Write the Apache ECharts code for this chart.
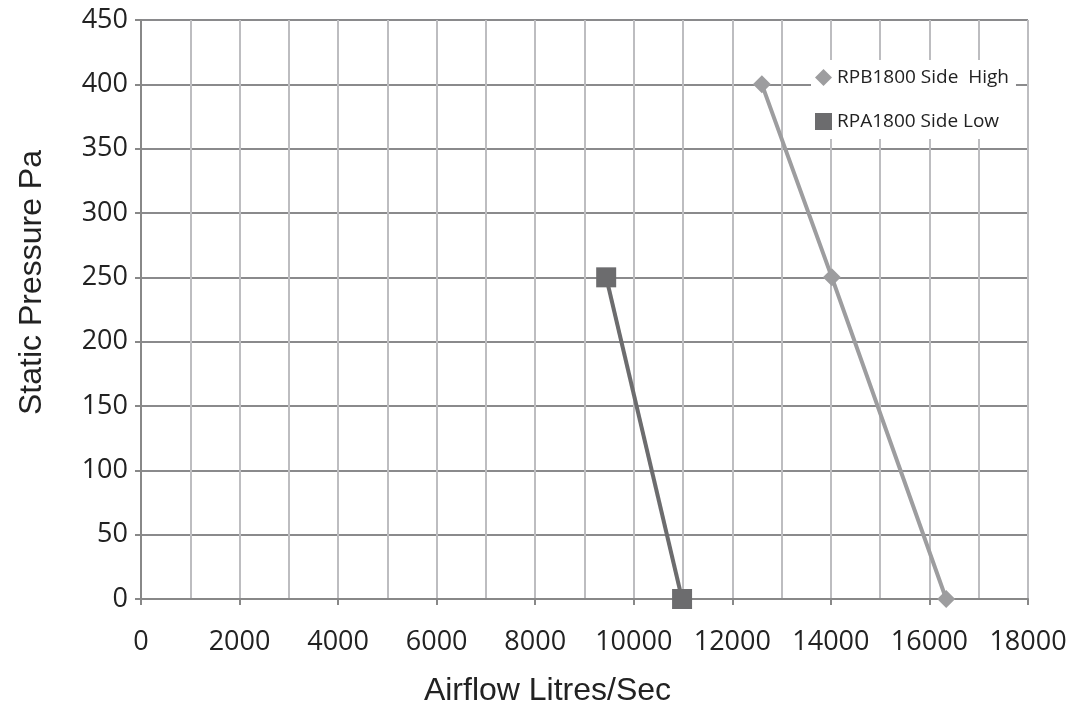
<!DOCTYPE html>
<html><head><meta charset="utf-8">
<script src="https://cdn.jsdelivr.net/npm/echarts@6/dist/echarts.min.js"></script>
<style>html,body{margin:0;padding:0;background:#fff}#c{width:1083px;height:704px}</style>
</head><body><div id="c"></div>
<script>
var seriesNames = ['RPB1800 Side  High', 'RPA1800 Side Low'];
var highAirflow = [12600, 14020, 16340];
var highPressure = [400, 250, 0];
var lowAirflow = [9440, 10980];
var lowPressure = [250, 0];
var xTitle = 'Airflow Litres/Sec';
var yTitle = 'Static Pressure Pa';

function pairs(xs, ys){ return xs.map(function(x,i){ return [x, ys[i]]; }); }

var chart = echarts.init(document.getElementById('c'));
chart.setOption({
  animation:false,
  grid:{left:141, right:55, top:20, bottom:105, containLabel:false, outerBoundsMode:'none'},
  legend:{
    orient:'vertical', left:811, top:60, itemGap:25,
    backgroundColor:'#fff', padding:[8,7,8,4],
    itemWidth:17, itemHeight:17,
    textStyle:{fontFamily:'"Open Sans", "Noto Sans", sans-serif', fontSize:19, color:'#222'},
    data:[{name:seriesNames[0], icon:'diamond'},{name:seriesNames[1], icon:'rect'}]
  },
  xAxis:{
    type:'value', min:0, max:18000, interval:2000,
    name:xTitle, nameLocation:'middle', nameGap:76,
    nameTextStyle:{fontFamily:'"Liberation Sans", Arial, sans-serif', fontSize:32, color:'#222', padding:[0,74,0,0]},
    axisLine:{show:true, lineStyle:{color:'#888', width:2}},
    axisTick:{show:true, length:6, lineStyle:{color:'#888', width:2}},
    axisLabel:{fontFamily:'"Open Sans", "Noto Sans", sans-serif', fontSize:27, color:'#222', margin:30,
      formatter:function(v){ return String(v); }},
    splitLine:{show:true, lineStyle:{color:'#bdbdc0', width:2}},
    minorTick:{show:false, splitNumber:2},
    minorSplitLine:{show:true, lineStyle:{color:'#bdbdc0', width:2}}
  },
  yAxis:{
    type:'value', min:0, max:450, interval:50,
    name:yTitle, nameLocation:'middle', nameGap:93, nameRotate:90,
    nameTextStyle:{fontFamily:'"Liberation Sans", Arial, sans-serif', fontSize:32, color:'#222', padding:[0,0,0,54]},
    axisLine:{show:true, lineStyle:{color:'#888', width:2}},
    axisTick:{show:true, length:6, lineStyle:{color:'#888', width:2}},
    axisLabel:{fontFamily:'"Open Sans", "Noto Sans", sans-serif', fontSize:27, color:'#222', margin:13},
    splitLine:{show:true, lineStyle:{color:'#8a8a8c', width:2}}
  },
  series:[
    {name:seriesNames[0], type:'line', data:pairs(highAirflow, highPressure),
     symbol:'diamond', symbolSize:18, showAllSymbol:true,
     lineStyle:{color:'#9d9d9f', width:4}, itemStyle:{color:'#9d9d9f'}},
    {name:seriesNames[1], type:'line', data:pairs(lowAirflow, lowPressure),
     symbol:'rect', symbolSize:20,
     lineStyle:{color:'#6c6c6e', width:4}, itemStyle:{color:'#6c6c6e'}}
  ]
});
</script></body></html>
